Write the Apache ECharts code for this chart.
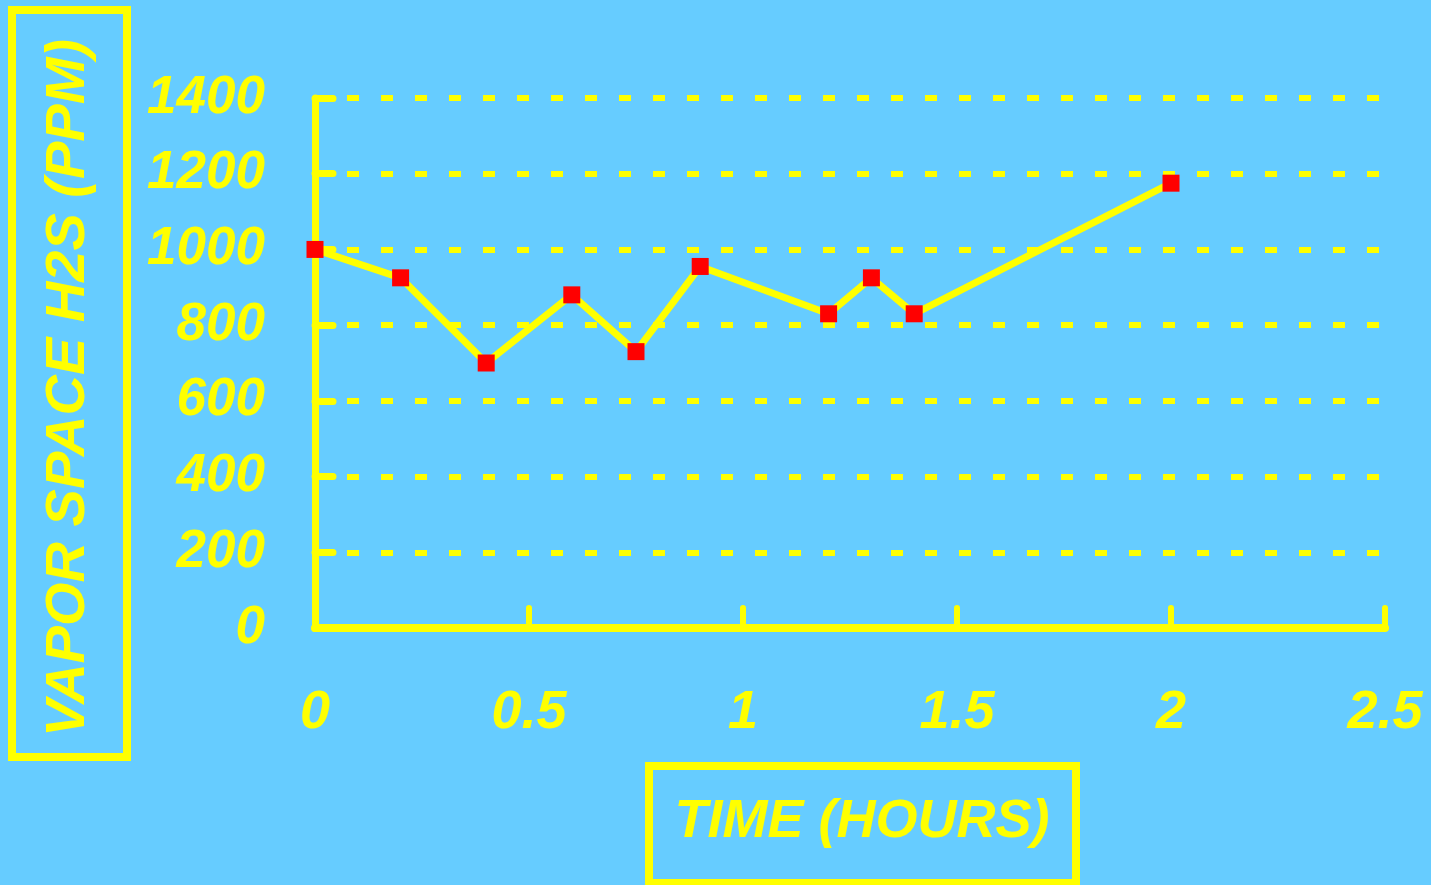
<!DOCTYPE html>
<html>
<head>
<meta charset="utf-8">
<script src="https://cdn.jsdelivr.net/npm/echarts@6/dist/echarts.min.js"></script>
<style>
  html, body { margin: 0; padding: 0; background: #66ccff; }
  #chart { width: 1431px; height: 885px; }
</style>
</head>
<body>
<div id="chart"></div>
<script>
// time in hours vs vapour space H2S (ppm)
const timeHours = [0, 0.2, 0.4, 0.6, 0.75, 0.9, 1.2, 1.3, 1.4, 2];
const h2sPpm = [1000, 925, 700, 880, 730, 955, 830, 925, 830, 1175];
const xTitle = 'TIME (HOURS)';
const yTitle = 'VAPOR SPACE H2S (PPM)';

const yellow = '#ffff00';
const font = 'bold italic 54px "Liberation Sans", Arial, sans-serif';

const chart = echarts.init(document.getElementById('chart'));

const option = {
  backgroundColor: '#66ccff',
  animation: false,
  grid: { left: 315, right: 46, top: 98, bottom: 257 },
  xAxis: {
    type: 'value',
    min: 0,
    max: 2.5,
    interval: 0.5,
    axisLine: { lineStyle: { color: yellow, width: 8, cap: 'round' } },
    axisTick: { inside: true, length: 20, lineStyle: { color: yellow, width: 6, cap: 'round' } },
    axisLabel: {
      color: yellow,
      fontSize: 54,
      fontWeight: 'bold',
      fontStyle: 'italic',
      fontFamily: 'Liberation Sans',
      margin: 58,
      formatter: v => String(v)
    },
    splitLine: { show: false }
  },
  yAxis: {
    type: 'value',
    min: 0,
    max: 1400,
    interval: 200,
    axisLine: { show: true, lineStyle: { color: yellow, width: 7, cap: 'round' } },
    axisTick: { show: true, inside: true, length: 18, lineStyle: { color: yellow, width: 7, cap: 'round' } },
    axisLabel: {
      color: yellow,
      fontSize: 53,
      fontWeight: 'bold',
      fontStyle: 'italic',
      fontFamily: 'Liberation Sans',
      margin: 50,
      formatter: v => String(v)
    },
    splitLine: {
      show: true,
      lineStyle: { color: yellow, width: 6, type: [12, 22], dashOffset: 2 }
    }
  },
  series: [
    {
      type: 'line',
      data: timeHours.map((t, i) => [t, h2sPpm[i]]),
      lineStyle: { color: yellow, width: 7 },
      itemStyle: { color: '#ff0000' },
      symbol: 'rect',
      symbolSize: 17,
      z: 5
    }
  ],
  graphic: [
    {
      type: 'rect',
      shape: { x: 12, y: 10, width: 115, height: 747 },
      style: { fill: 'none', stroke: yellow, lineWidth: 8 }
    },
    {
      type: 'text',
      x: 69,
      y: 388,
      rotation: Math.PI / 2,
      style: { text: yTitle, font: 'bold italic 56px "Liberation Sans", Arial, sans-serif', fill: yellow, align: 'center', verticalAlign: 'middle' }
    },
    {
      type: 'rect',
      shape: { x: 649, y: 766, width: 427, height: 117 },
      style: { fill: 'none', stroke: yellow, lineWidth: 8 }
    },
    {
      type: 'text',
      x: 862,
      y: 822,
      style: { text: xTitle, font: font, fill: yellow, align: 'center', verticalAlign: 'middle' }
    }
  ]
};

chart.setOption(option);
window.addEventListener('resize', () => chart.resize());
</script>
</body>
</html>
